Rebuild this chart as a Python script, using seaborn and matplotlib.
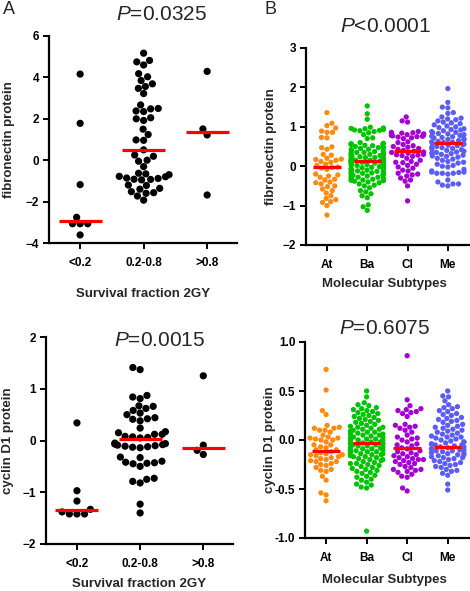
import warnings
import numpy as np
import pandas as pd
import seaborn as sns
import matplotlib.pyplot as plt
from matplotlib.ticker import FormatStrFormatter

warnings.filterwarnings("ignore")

# ---- panel A: survival fraction groups ----
sf_groups = ["<0.2", "0.2-0.8", ">0.8"]

fn_lo = [4.16, 1.78, -1.18, -2.76, -3.07, -3.07, -3.07, -3.61]
fn_mid = [5.17, 4.82, 4.75, 4.60, 4.18, 4.03, 3.85, 3.69, 3.56, 3.47, 3.22,
          2.67, 2.48, 2.50, 2.38, 2.35, 2.05, 2.00, 1.92, 1.50, 1.24, 0.98,
          0.96, 0.50, 0.25, 0.19, 0.00, -0.05, -0.31, -0.63, -0.70, -0.78,
          -0.86, -0.92, -0.95, -0.93, -0.88, -0.80, -0.66, -1.20, -1.22,
          -1.36, -1.40, -1.52, -1.57, -1.60, -1.73, -1.93]
fn_hi = [4.29, 1.51, 1.22, -1.68]
fn_medians = [-2.92, 0.49, 1.38]

cd_lo = [0.34, -0.97, -1.17, -1.33, -1.42, -1.42, -1.42, -1.38]
cd_mid = [1.41, 1.37, 0.87, 0.84, 0.81, 0.67, 0.62, 0.58, 0.66, 0.53, 0.50,
          0.44, 0.42, 0.41, 0.38, 0.24, 0.17, 0.15, 0.12, 0.12, 0.08, 0.06,
          0.05, 0.07, -0.05, -0.07, -0.09, -0.11, -0.13, -0.14, -0.12,
          -0.10, -0.08, -0.06, -0.33, -0.32, -0.40, -0.43, -0.45, -0.50,
          -0.44, -0.42, -0.73, -0.79, -0.82, -0.75, -1.23, -1.40]
cd_hi = [1.25, -0.09, -0.19, -0.27]
cd_medians = [-1.35, 0.03, -0.14]

# ---- panel B: molecular subtypes ----
subtypes = ["At", "Ba", "Cl", "Me"]
sub_colors = ["#FF8A0E", "#00C300", "#A300D4", "#5C5CF6"]

fn_at = [1.36, 1.09, 1.03, 0.97, 0.89, 0.86, 0.86, 0.73, 0.72, 0.49, 0.47,
         0.43, 0.30, 0.28, 0.20, 0.18, 0.17, 0.15, 0.12, 0.10, 0.05, 0.02,
         -0.02, -0.03, -0.05, -0.08, -0.20, -0.22, -0.25, -0.28, -0.33,
         -0.35, -0.40, -0.42, -0.45, -0.50, -0.52, -0.58, -0.62, -0.68,
         -0.75, -0.82, -0.85, -0.90, -0.92, -1.00, -1.24]
fn_ba = [1.53, 1.33, 1.19, 0.99, 0.97, 0.96, 0.95, 0.93, 0.92, 0.91, 0.90,
         0.88, 0.85, 0.80, 0.72, 0.70, 0.60, 0.58, 0.57, 0.56, 0.55, 0.55,
         0.53, 0.52, 0.50, 0.48, 0.47, 0.45, 0.45, 0.43, 0.42, 0.40, 0.38,
         0.37, 0.35, 0.35, 0.33, 0.32, 0.30, 0.30, 0.28, 0.27, 0.25, 0.25,
         0.24, 0.22, 0.22, 0.20, 0.19, 0.18, 0.18, 0.16, 0.15, 0.15, 0.14,
         0.13, 0.12, 0.12, 0.11, 0.11, 0.10, 0.09, 0.08, 0.07, 0.05, 0.05,
         0.04, 0.03, 0.02, 0.00, -0.01, -0.02, -0.03, -0.04, -0.05, -0.06,
         -0.08, -0.09, -0.10, -0.10, -0.12, -0.13, -0.15, -0.15, -0.17,
         -0.18, -0.20, -0.20, -0.22, -0.23, -0.25, -0.27, -0.28, -0.28,
         -0.30, -0.32, -0.33, -0.33, -0.35, -0.36, -0.37, -0.38, -0.40,
         -0.42, -0.45, -0.48, -0.50, -0.55, -0.62, -0.65, -0.70, -0.75,
         -0.80, -0.98, -1.03, -1.12]
fn_cl = [1.25, 1.15, 1.12, 0.88, 0.86, 0.85, 0.84, 0.82, 0.81, 0.80, 0.79,
         0.78, 0.77, 0.76, 0.75, 0.74, 0.72, 0.70, 0.62, 0.60, 0.55, 0.52,
         0.50, 0.48, 0.45, 0.43, 0.40, 0.38, 0.36, 0.35, 0.33, 0.30, 0.29,
         0.28, 0.27, 0.25, 0.20, 0.15, 0.12, 0.10, 0.09, 0.05, 0.02, -0.02,
         -0.05, -0.10, -0.12, -0.18, -0.20, -0.22, -0.25, -0.30, -0.35,
         -0.38, -0.50, -0.88]
fn_me = [1.97, 1.62, 1.50, 1.48, 1.36, 1.34, 1.25, 1.22, 1.20, 1.18, 1.15,
         1.12, 1.10, 1.08, 1.05, 1.02, 1.00, 0.98, 0.95, 0.93, 0.92, 0.90,
         0.88, 0.86, 0.85, 0.83, 0.82, 0.80, 0.78, 0.76, 0.75, 0.73, 0.72,
         0.70, 0.68, 0.67, 0.65, 0.63, 0.62, 0.61, 0.60, 0.58, 0.56, 0.55,
         0.53, 0.52, 0.50, 0.48, 0.47, 0.45, 0.43, 0.42, 0.40, 0.38, 0.36,
         0.35, 0.33, 0.32, 0.30, 0.28, 0.26, 0.25, 0.23, 0.20, 0.18, 0.15,
         0.12, 0.10, 0.08, 0.05, 0.02, 0.00, -0.02, -0.08, -0.12, -0.15,
         -0.16, -0.18, -0.18, -0.20, -0.18, -0.15, -0.35, -0.40, -0.45,
         -0.48, -0.50, -0.45]
fn_sub_medians = [-0.02, 0.13, 0.39, 0.60]

cd_at = [0.72, 0.51, 0.30, 0.26, 0.15, 0.13, 0.12, 0.12, 0.10, 0.10, 0.08,
         0.05, 0.03, 0.02, 0.02, 0.01, 0.00, 0.00, -0.02, -0.05, -0.05,
         -0.07, -0.08, -0.10, -0.10, -0.12, -0.13, -0.14, -0.15, -0.15,
         -0.16, -0.17, -0.18, -0.19, -0.20, -0.21, -0.22, -0.22, -0.24,
         -0.25, -0.26, -0.28, -0.30, -0.31, -0.32, -0.37, -0.41, -0.54,
         -0.56, -0.62]
cd_ba = [0.50, 0.44, 0.38, 0.36, 0.35, 0.33, 0.32, 0.31, 0.30, 0.29, 0.28,
         0.27, 0.26, 0.25, 0.24, 0.23, 0.22, 0.21, 0.20, 0.19, 0.18, 0.17,
         0.16, 0.15, 0.14, 0.13, 0.13, 0.12, 0.11, 0.11, 0.10, 0.09, 0.08,
         0.08, 0.07, 0.06, 0.06, 0.05, 0.05, 0.04, 0.03, 0.03, 0.02, 0.01,
         0.01, 0.00, 0.00, -0.01, -0.02, -0.02, -0.03, -0.03, -0.04, -0.04,
         -0.05, -0.05, -0.06, -0.06, -0.07, -0.08, -0.08, -0.09, -0.09,
         -0.10, -0.10, -0.11, -0.11, -0.12, -0.12, -0.13, -0.14, -0.14,
         -0.15, -0.15, -0.16, -0.17, -0.17, -0.18, -0.19, -0.20, -0.20,
         -0.21, -0.22, -0.23, -0.24, -0.24, -0.25, -0.26, -0.27, -0.28,
         -0.29, -0.30, -0.31, -0.32, -0.33, -0.34, -0.36, -0.37, -0.38,
         -0.40, -0.41, -0.43, -0.45, -0.46, -0.48, -0.49, -0.93]
cd_cl = [0.86, 0.41, 0.35, 0.32, 0.31, 0.30, 0.29, 0.28, 0.27, 0.24, 0.16,
         0.15, 0.14, 0.13, 0.12, 0.10, 0.08, 0.05, 0.03, 0.02, 0.01, 0.00,
         -0.02, -0.04, -0.05, -0.06, -0.08, -0.09, -0.11, -0.12, -0.13,
         -0.14, -0.15, -0.16, -0.17, -0.18, -0.19, -0.20, -0.20, -0.21,
         -0.22, -0.23, -0.24, -0.25, -0.27, -0.28, -0.30, -0.30, -0.31,
         -0.32, -0.33, -0.35, -0.37, -0.38, -0.49, -0.52]
cd_me = [0.50, 0.45, 0.44, 0.40, 0.36, 0.34, 0.33, 0.32, 0.30, 0.29, 0.27,
         0.26, 0.25, 0.23, 0.22, 0.21, 0.20, 0.19, 0.18, 0.16, 0.15, 0.14,
         0.13, 0.12, 0.11, 0.10, 0.09, 0.08, 0.07, 0.06, 0.05, 0.04, 0.03,
         0.03, 0.02, 0.01, 0.00, -0.01, -0.02, -0.02, -0.03, -0.04, -0.04,
         -0.05, -0.05, -0.06, -0.07, -0.07, -0.08, -0.09, -0.09, -0.10,
         -0.10, -0.11, -0.11, -0.12, -0.13, -0.13, -0.14, -0.15, -0.15,
         -0.16, -0.17, -0.18, -0.18, -0.19, -0.20, -0.21, -0.22, -0.23,
         -0.24, -0.25, -0.26, -0.27, -0.28, -0.30, -0.31, -0.32, -0.34,
         -0.36, -0.45, -0.51]
cd_sub_medians = [-0.11, -0.035, -0.08, -0.07]

sns.set_theme(style="ticks")
plt.rcParams["font.family"] = ["Liberation Sans", "DejaVu Sans"]
plt.rcParams["mathtext.fontset"] = "custom"
plt.rcParams["mathtext.rm"] = "Liberation Sans"
plt.rcParams["mathtext.it"] = "Liberation Sans:italic"

W, H = 470, 591
fig = plt.figure(figsize=(W / 100, H / 100), dpi=100)


def px_axes(left, top, right, bottom):
    return fig.add_axes([left / W, 1 - bottom / H, (right - left) / W, (bottom - top) / H])


def swarm_panel(ax, groups, values, medians, palette, size, ylim, yticks,
                ylabel, xlabel, xlim, fmt=None):
    df = pd.DataFrame({
        "group": np.repeat(groups, [len(v) for v in values]),
        "value": np.concatenate(values),
    })
    sns.swarmplot(data=df, x="group", y="value", hue="group", order=groups,
                  hue_order=groups, palette=palette, size=size, linewidth=0,
                  legend=False, ax=ax, zorder=3)
    pos = np.arange(len(groups))
    ax.hlines(medians, pos - 0.34, pos + 0.34, color="#FF0000", lw=2.3, zorder=5)
    ax.set_ylim(*ylim)
    ax.set_yticks(yticks)
    ax.set_xlim(*xlim)
    if fmt:
        ax.yaxis.set_major_formatter(FormatStrFormatter(fmt))
    sns.despine(ax=ax)
    for s in ("left", "bottom"):
        ax.spines[s].set_linewidth(1.6)
        ax.spines[s].set_color("black")
    ax.tick_params(axis="both", direction="out", length=4, width=1.4,
                   colors="black", labelsize=8.5, pad=3)
    ax.tick_params(axis="x", pad=6)
    for lab in ax.get_xticklabels() + ax.get_yticklabels():
        lab.set_fontweight("bold")
    ax.set_ylabel(ylabel, fontsize=9.5, fontweight="bold")
    ax.set_xlabel(xlabel, fontsize=9.5, fontweight="bold")


axA1 = px_axes(49, 36, 237, 243)
swarm_panel(axA1, sf_groups, [fn_lo, fn_mid, fn_hi], fn_medians, ["black"] * 3,
            5.2, (-4, 6), [-4, -2, 0, 2, 4, 6], "fibronectin protein",
            "Survival fraction 2GY", (-0.49, 2.47))
axA1.yaxis.set_label_coords(-0.18, 0.5)
axA1.xaxis.set_label_coords(0.5, -0.215)

axA2 = px_axes(46, 337, 233, 544)
swarm_panel(axA2, sf_groups, [cd_lo, cd_mid, cd_hi], cd_medians, ["black"] * 3,
            5.2, (-2, 2), [-2, -1, 0, 1, 2], "cyclin D1 protein",
            "Survival fraction 2GY", (-0.49, 2.47))
axA2.yaxis.set_label_coords(-0.17, 0.5)
axA2.xaxis.set_label_coords(0.5, -0.163)

axB1 = px_axes(306, 48, 470, 245)
swarm_panel(axB1, subtypes, [fn_at, fn_ba, fn_cl, fn_me], fn_sub_medians,
            sub_colors, 3.8, (-2, 3), [-2, -1, 0, 1, 2, 3],
            "fibronectin protein", "Molecular Subtypes", (-0.52, 3.55))
axB1.yaxis.set_label_coords(-0.175, 0.5)
axB1.xaxis.set_label_coords(0.48, -0.17)

axB2 = px_axes(305, 342, 470, 538)
swarm_panel(axB2, subtypes, [cd_at, cd_ba, cd_cl, cd_me], cd_sub_medians,
            sub_colors, 3.8, (-1, 1), [-1.0, -0.5, 0.0, 0.5, 1.0],
            "cyclin D1 protein", "Molecular Subtypes", (-0.52, 3.55), fmt="%.1f")
axB2.yaxis.set_label_coords(-0.175, 0.5)
axB2.xaxis.set_label_coords(0.48, -0.185)

# p-values and panel letters
def fig_text(x, y, s, **kw):
    fig.text(x / W, 1 - y / H, s, **kw)


fig_text(162, 14, r"$\mathit{P}$=0.0325", fontsize=15, ha="center", va="center")
fig_text(160, 340, r"$\mathit{P}$=0.0015", fontsize=15, ha="center", va="center")
fig_text(385, 27, r"$\mathit{P}$<0.0001", fontsize=15, ha="center", va="center")
fig_text(385, 328, r"$\mathit{P}$=0.6075", fontsize=15, ha="center", va="center")
fig_text(9, 10, "A", fontsize=13, ha="center", va="center")
fig_text(271, 10, "B", fontsize=13, ha="center", va="center")

fig.savefig("out.png", dpi=100)
